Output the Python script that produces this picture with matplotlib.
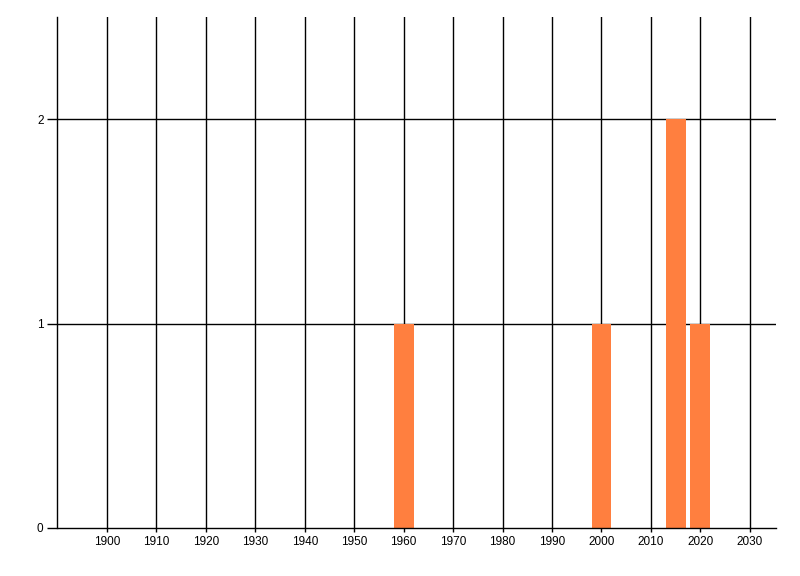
import matplotlib
matplotlib.use("Agg")
import matplotlib.pyplot as plt

years = [1960, 2000, 2015, 2020]
counts = [1, 1, 2, 1]
xticks = [1900, 1910, 1920, 1930, 1940, 1950, 1960, 1970, 1980, 1990, 2000, 2010, 2020, 2030]
yticks = [0, 1, 2]

plt.rcParams['font.family'] = ['Liberation Sans', 'DejaVu Sans']
fig = plt.figure(figsize=(8, 5.76), dpi=100)
ax = fig.add_axes([57.5/800, 48/576, (776-57.5)/800, (528-17)/576])

ax.set_xlim(1890, 2035.3)
ax.set_ylim(0, 2.5)
for x in xticks:
    ax.axvline(x, color='black', lw=1, zorder=1)
for y in yticks[1:]:
    ax.axhline(y, color='black', lw=1, zorder=1)
ax.bar(years, counts, width=4, color='#FF7F3F', zorder=2)

ax.set_xticks(xticks)
ax.set_xticklabels([str(x) for x in xticks])
ax.set_yticks(yticks)
ax.tick_params(axis='x', length=3, width=1, pad=3, labelsize=8.5)
ax.tick_params(axis='y', length=7, width=1, pad=3, labelsize=8.5)
for s in ['top', 'right']:
    ax.spines[s].set_visible(False)
ax.spines['left'].set_linewidth(1)
ax.spines['bottom'].set_linewidth(1)
ax.spines['bottom'].set_zorder(4)

fig.savefig('out.png', dpi=100)
